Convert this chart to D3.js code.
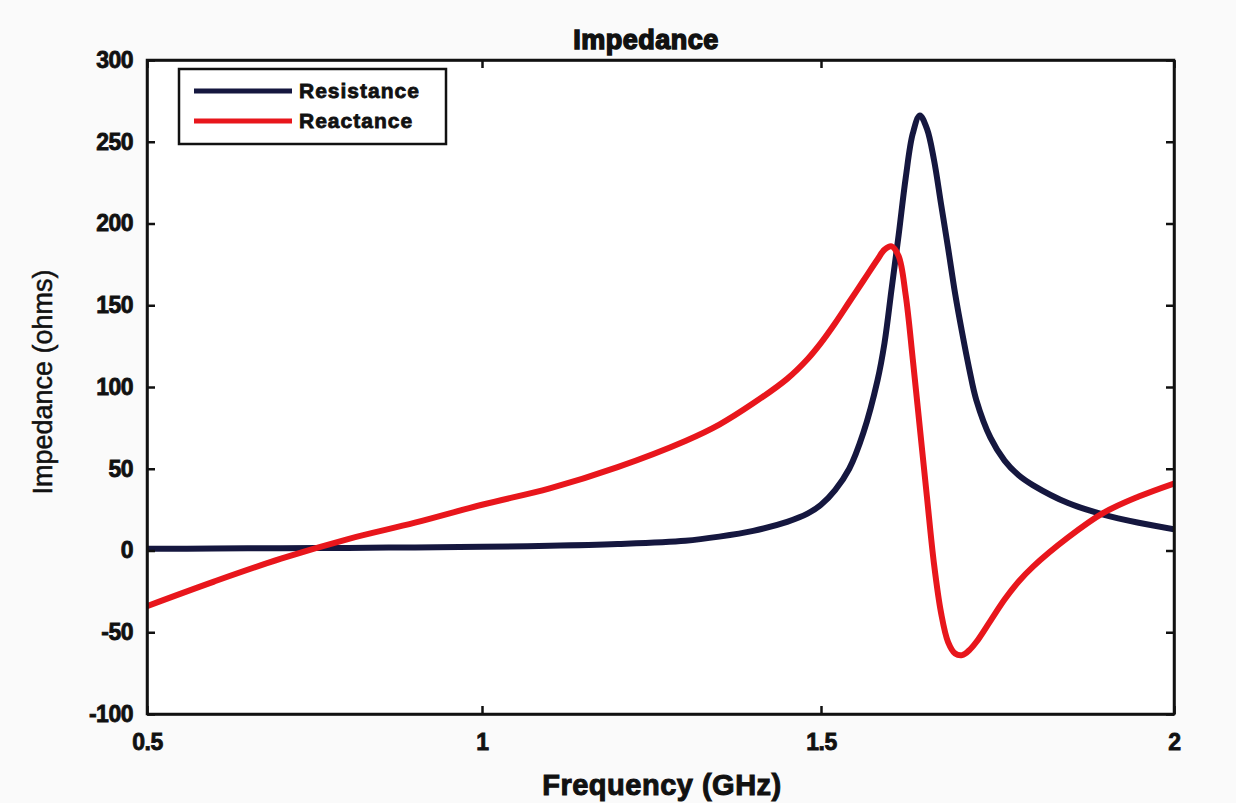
<!DOCTYPE html>
<html><head><meta charset="utf-8">
<script src="https://cdn.jsdelivr.net/npm/d3@7"></script>
<style>html,body{margin:0;padding:0;background:#fafafa;}svg{display:block;}</style>
</head><body>
<script>
const freq = [0.5,0.6,0.7,0.8,0.9,1.0,1.1,1.2,1.3,1.35,1.4,1.45,1.48,1.5,1.52,1.54,1.56,1.58,1.59,1.6,1.61,1.62,1.63,1.64,1.65,1.66,1.67,1.68,1.69,1.70,1.71,1.72,1.74,1.76,1.78,1.8,1.85,1.9,1.95,2.0];
const resistance = [1,1.2,1.4,1.6,1.9,2.3,2.9,4,6,8.5,12,17.5,22.5,28,37,50,72,104,127,160,193,228,255,266,258,239,212,185,157,133,111,92,69,55,46,40,29,22,17,13];
const reactance = [-34,-19,-5,7,17,28,38,51,67,77,90,105,117,127,139,152,165,178,184,186,180,156,117,75,33,-8,-38,-56,-63,-64,-61,-56,-43,-30,-19,-10,8,23,33,41];
const xTicks = [0.5,1,1.5,2];
const xTickLabels = ["0.5","1","1.5","2"];
const yTicks = [-100,-50,0,50,100,150,200,250,300];
const yTickLabels = ["-100","-50","0","50","100","150","200","250","300"];
const seriesNames = ["Resistance","Reactance"];
const seriesColors = ["#15173f","#e8161c"];

const W=1236,H=803;
const L=147,R=1174,T=60,B=714;
const svg=d3.select("body").append("svg").attr("width",W).attr("height",H);
svg.append("rect").attr("width",W).attr("height",H).attr("fill","#fafafa");
svg.append("rect").attr("x",L).attr("y",T).attr("width",R-L).attr("height",B-T).attr("fill","#ffffff");

const x=d3.scaleLinear().domain([0.5,1,1.5,2]).range([L,482,821,R]);
const y=d3.scaleLinear().domain([-100,300]).range([B,T]);
const font="'Liberation Sans', Arial, sans-serif";

// curves
const series=[resistance,reactance];
svg.append("clipPath").attr("id","c").append("rect").attr("x",L).attr("y",T).attr("width",R-L).attr("height",B-T);
const line=d3.line().x((d,i)=>x(freq[i])).y(d=>y(d)).curve(d3.curveCatmullRom.alpha(0.5));
series.forEach((s,k)=>{
  svg.append("path").attr("d",line(s)).attr("fill","none").attr("stroke",seriesColors[k])
    .attr("stroke-width",6).attr("stroke-linejoin","round").attr("stroke-linecap","round")
    .attr("clip-path","url(#c)");
});

// axes
const tickLen=8;
const xb=svg.append("g").attr("transform",`translate(0,${B})`).call(d3.axisBottom(x).tickValues(xTicks).tickFormat((d,i)=>xTickLabels[i]).tickSizeInner(-tickLen).tickSizeOuter(0).tickPadding(20));
const xt=svg.append("g").attr("transform",`translate(0,${T})`).call(d3.axisTop(x).tickValues(xTicks).tickFormat("").tickSizeInner(-tickLen).tickSizeOuter(0));
const yl=svg.append("g").attr("transform",`translate(${L},0)`).call(d3.axisLeft(y).tickValues(yTicks).tickFormat((d,i)=>yTickLabels[i]).tickSizeInner(-tickLen).tickSizeOuter(0).tickPadding(14));
const yr=svg.append("g").attr("transform",`translate(${R},0)`).call(d3.axisRight(y).tickValues(yTicks).tickFormat("").tickSizeInner(-tickLen).tickSizeOuter(0));
[xb,xt,yl,yr].forEach(g=>{
  g.selectAll("path.domain").attr("stroke","#111").attr("stroke-width",2.5);
  g.selectAll(".tick line").attr("stroke","#111").attr("stroke-width",2.5);
  g.selectAll("text").attr("font-family",font).attr("font-weight","bold").attr("font-size",23)
    .attr("fill","#111").attr("stroke","#111").attr("stroke-width",0.8).attr("letter-spacing",-0.5);
});
svg.append("rect").attr("x",L).attr("y",T).attr("width",R-L).attr("height",B-T).attr("fill","none").attr("stroke","#111").attr("stroke-width",2.5);

// titles
svg.append("text").attr("x",646).attr("y",49).attr("text-anchor","middle").attr("font-family",font).attr("font-weight","bold").attr("font-size",27).attr("letter-spacing",0.5).attr("fill","#111").attr("stroke","#111").attr("stroke-width",1.5).text("Impedance");
svg.append("text").attr("x",662).attr("y",795).attr("text-anchor","middle").attr("font-family",font).attr("font-weight","bold").attr("font-size",29).attr("letter-spacing",0.5).attr("fill","#111").attr("stroke","#111").attr("stroke-width",1).text("Frequency (GHz)");
svg.append("text").attr("transform","translate(52,382) rotate(-90)").attr("text-anchor","middle").attr("font-family",font).attr("font-size",27).attr("fill","#111").attr("stroke","#111").attr("stroke-width",0.5).text("Impedance (ohms)");

// legend
const lg=svg.append("g");
lg.append("rect").attr("x",179).attr("y",69).attr("width",267).attr("height",75).attr("fill","#fff").attr("stroke","#111").attr("stroke-width",2.5);
seriesNames.forEach((n,i)=>{
  const yy=91+i*30;
  lg.append("line").attr("x1",194).attr("x2",292).attr("y1",yy).attr("y2",yy).attr("stroke",seriesColors[i]).attr("stroke-width",5);
  lg.append("text").attr("x",299).attr("y",yy+7).attr("font-family",font).attr("font-weight","bold").attr("font-size",21).attr("letter-spacing",1).attr("fill","#111").attr("stroke","#111").attr("stroke-width",0.8).text(n);
});
</script>
</body></html>
